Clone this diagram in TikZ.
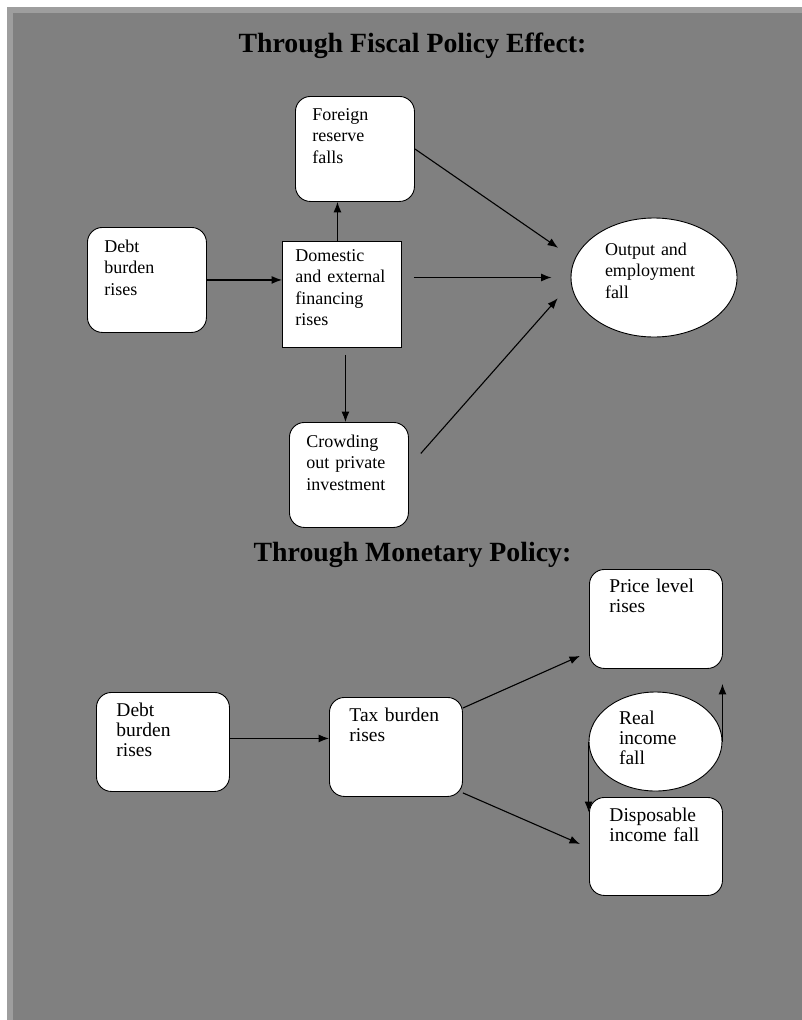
\documentclass[tikz,border=0pt]{standalone}
\usepackage{fontspec}
\setmainfont{Liberation Serif}
\usetikzlibrary{shapes.geometric,arrows.meta}
\definecolor{framegray}{RGB}{158,158,158}
\definecolor{pagegray}{RGB}{128,128,128}
\tikzset{
  stepbox/.style={draw, fill=white, line width=0.9pt, rounded corners=15pt, anchor=north west, align=left, inner ysep=0pt},
  sqbox/.style={stepbox, sharp corners},
  oval/.style={draw, fill=white, line width=0.9pt, ellipse, inner sep=0pt, align=left},
  topfont/.style={font=\fontsize{18}{21.5}\selectfont},
  lowfont/.style={font=\fontsize{19.5}{20}\selectfont},
  heading/.style={font=\bfseries\fontsize{27.8}{32}\selectfont, anchor=base},
  arr/.style={-{Latex[length=10.5pt,width=8pt]}, line width=1.1pt}
}
\begin{document}
\begin{tikzpicture}[x=1pt,y=-1pt]
          \useasboundingbox (0,0) rectangle (802,1020);%
          \fill[framegray] (7,7) rectangle (802,1020);%
          \fill[pagegray] (13,13) rectangle (802,1020);%

          % fiscal policy
          \node[heading] (headA) at (412.5,52) {Through Fiscal Policy Effect:};%
          \node[stepbox, topfont, inner xsep=17pt, text width=85pt, text height=24pt, text depth=81pt] (fore) at (295,96) {Foreign\\reserve\\falls};%
          \node[stepbox, topfont, inner xsep=17pt, text width=85pt, text height=25pt, text depth=80pt] (debtA) at (87,227) {Debt\\burden\\rises};%
          \node[sqbox, topfont, inner xsep=13pt, text width=93pt, text height=20pt, text depth=86pt] (dom) at (282,241) {Domestic\\and external\\financing\\rises};%
          \node[stepbox, topfont, inner xsep=17pt, text width=85pt, text height=25pt, text depth=80pt] (cro) at (289,422) {Crowding\\out private\\investment};%
          \node[oval, topfont, minimum width=166pt, minimum height=119pt, text width=98pt, text height=10pt, text depth=55pt] (out) at (654,277.5) {Output and\\employment\\fall};%

          \draw[arr] (debtA.east) -- (debtA.east -| dom.west);%
          \draw[arr] ([xshift=-4.5pt]dom.north) -- ([xshift=-17.5pt]fore.south);%
          \draw[arr, shorten <=7pt] ([xshift=3.5pt]dom.south) -- ([xshift=-3.5pt]cro.north);%
          \draw[arr, shorten >=20pt] (fore.east) -- (out.167);%
          \draw[arr, shorten <=12pt, shorten >=19pt] (dom.east |- out.west) -- (out.west);%
          \draw[arr, shorten <=18pt, shorten >=20pt] ([yshift=8pt]cro.east) -- (out.184);%

          % monetary policy
          \node[heading] (headB) at (412.5,561) {Through Monetary Policy:};%
          \node[stepbox, lowfont, inner xsep=20pt, text width=93pt, text height=23pt, text depth=76pt] (price) at (589,569) {Price level\\rises};%
          \node[stepbox, lowfont, inner xsep=20pt, text width=93pt, text height=24pt, text depth=75pt] (debtB) at (96,692) {Debt\\burden\\rises};%
          \node[stepbox, lowfont, inner xsep=20pt, text width=93pt, text height=24pt, text depth=75pt] (tax) at (329,697) {Tax burden\\rises};%
          \node[stepbox, lowfont, inner xsep=20pt, text width=93pt, text height=24pt, text depth=74pt] (disp) at (589,797) {Disposable\\income fall};%
          \node[oval, lowfont, minimum width=133pt, minimum height=99pt, text width=73pt, text height=10pt, text depth=45pt] (real) at (655.5,741.5) {Real\\income\\fall};%

          \draw[arr] ([yshift=3.5pt]debtB.east) -- ([yshift=8.5pt]tax.west);%
          \draw[arr] ([yshift=-11pt]tax.north east) -- ([shift={(-9pt,13pt)}]price.south west);%
          \draw[arr] ([yshift=4pt]tax.south east) -- ([shift={(-9pt,-47pt)}]disp.north west);%
          \draw[arr, shorten >=15pt] (real.east) -- (real.east |- price.south);%
          \draw[arr, shorten >=-15pt] (real.west) -- (real.west |- disp.north);%
\end{tikzpicture}
\end{document}
